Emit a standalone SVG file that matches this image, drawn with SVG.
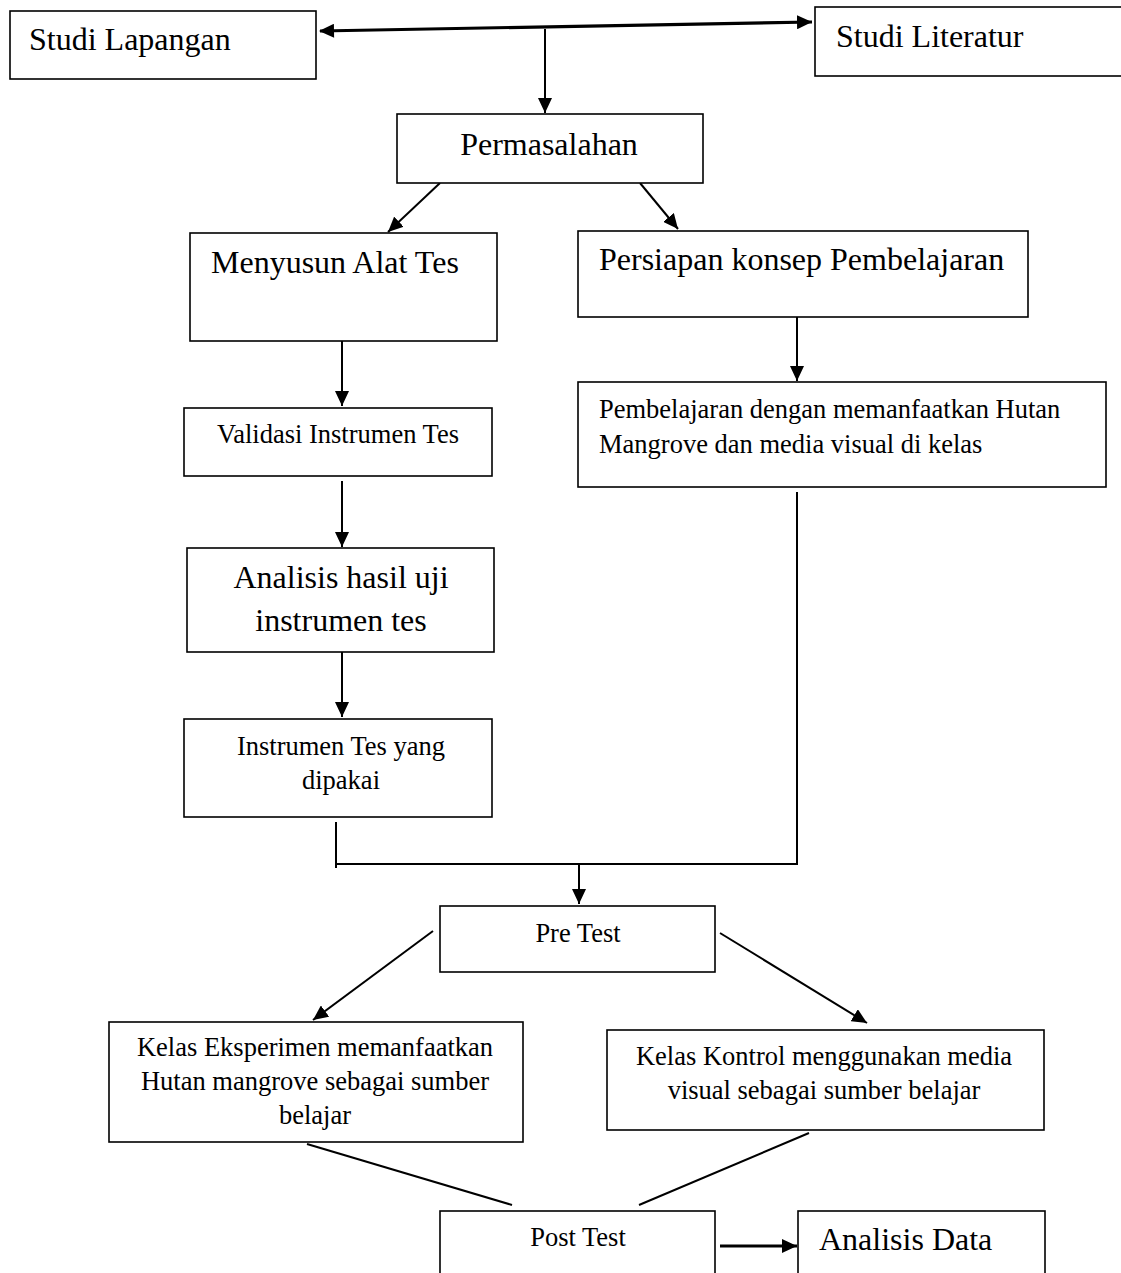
<svg xmlns="http://www.w3.org/2000/svg" width="1121" height="1273" viewBox="0 0 1121 1273">
<style>
.box{fill:#fff;stroke:#000;stroke-width:1.6}
text{font-family:"Liberation Serif","Times New Roman",serif;fill:#000}
.big{font-size:32px}
.sm{font-size:26.5px}
.c{text-anchor:middle}
.ln{stroke:#000;stroke-width:2;fill:none}
.thick{stroke:#000;stroke-width:3.2;fill:none}
</style>
<defs>
<marker id="ah" markerUnits="userSpaceOnUse" markerWidth="16" markerHeight="14" refX="15" refY="7" orient="auto">
<path d="M0,0 L15,7 L0,14 Z" fill="#000"/>
</marker>
<marker id="ahs" markerUnits="userSpaceOnUse" markerWidth="16" markerHeight="14" refX="1" refY="7" orient="auto">
<path d="M15,0 L0,7 L15,14 Z" fill="#000"/>
</marker>
</defs>
<rect x="0" y="0" width="1121" height="1273" fill="#fff"/>
<g id="connectors">
<line class="thick" x1="320" y1="31" x2="812" y2="22" marker-start="url(#ahs)" marker-end="url(#ah)"/>
<line class="ln" x1="545" y1="29" x2="545" y2="113" marker-end="url(#ah)"/>
<line class="ln" x1="440" y1="183" x2="388" y2="232" marker-end="url(#ah)"/>
<line class="ln" x1="640" y1="183" x2="678" y2="229" marker-end="url(#ah)"/>
<line class="ln" x1="342" y1="341" x2="342" y2="406" marker-end="url(#ah)"/>
<line class="ln" x1="342" y1="481" x2="342" y2="547" marker-end="url(#ah)"/>
<line class="ln" x1="342" y1="652" x2="342" y2="717" marker-end="url(#ah)"/>
<line class="ln" x1="797" y1="317" x2="797" y2="381" marker-end="url(#ah)"/>
<polyline class="ln" points="336,822 336,868"/>
<polyline class="ln" points="336,864 797,864 797,492"/>
<line class="ln" x1="579" y1="864" x2="579" y2="904" marker-end="url(#ah)"/>
<line class="ln" x1="433" y1="931" x2="313" y2="1020" marker-end="url(#ah)"/>
<line class="ln" x1="720" y1="933" x2="867" y2="1023" marker-end="url(#ah)"/>
<line class="ln" x1="307" y1="1144" x2="512" y2="1205"/>
<line class="ln" x1="809" y1="1133" x2="639" y2="1205"/>
<line class="thick" x1="720" y1="1246" x2="797" y2="1246" marker-end="url(#ah)"/>
</g>
<g id="studi-lapangan">
<rect class="box" x="10" y="11" width="306" height="68"/>
<text class="big" x="29" y="50">Studi Lapangan</text>
</g>
<g id="studi-literatur">
<rect class="box" x="815" y="7" width="320" height="69"/>
<text class="big" x="836" y="47">Studi Literatur</text>
</g>
<g id="permasalahan">
<rect class="box" x="397" y="114" width="306" height="69"/>
<text class="big c" x="549" y="155">Permasalahan</text>
</g>
<g id="menyusun">
<rect class="box" x="190" y="233" width="307" height="108"/>
<text class="big" x="211" y="273">Menyusun Alat Tes</text>
</g>
<g id="persiapan">
<rect class="box" x="578" y="231" width="450" height="86"/>
<text class="big" x="599" y="270">Persiapan konsep Pembelajaran</text>
</g>
<g id="validasi">
<rect class="box" x="184" y="408" width="308" height="68"/>
<text class="sm c" x="338" y="443">Validasi Instrumen Tes</text>
</g>
<g id="pembelajaran">
<rect class="box" x="578" y="382" width="528" height="105"/>
<text class="sm" x="599" y="418">Pembelajaran dengan memanfaatkan Hutan</text>
<text class="sm" x="599" y="453">Mangrove dan media visual di kelas</text>
</g>
<g id="analisis-uji">
<rect class="box" x="187" y="548" width="307" height="104"/>
<text class="big c" x="341" y="588">Analisis hasil uji</text>
<text class="big c" x="341" y="631">instrumen tes</text>
</g>
<g id="instrumen-dipakai">
<rect class="box" x="184" y="719" width="308" height="98"/>
<text class="sm c" x="341" y="755">Instrumen Tes yang</text>
<text class="sm c" x="341" y="789">dipakai</text>
</g>
<g id="pre-test">
<rect class="box" x="440" y="906" width="275" height="66"/>
<text class="sm c" x="578" y="942">Pre Test</text>
</g>
<g id="kelas-eksperimen">
<rect class="box" x="109" y="1022" width="414" height="120"/>
<text class="sm c" x="315" y="1056">Kelas Eksperimen memanfaatkan</text>
<text class="sm c" x="315" y="1090">Hutan mangrove sebagai sumber</text>
<text class="sm c" x="315" y="1124">belajar</text>
</g>
<g id="kelas-kontrol">
<rect class="box" x="607" y="1030" width="437" height="100"/>
<text class="sm c" x="824" y="1065">Kelas Kontrol menggunakan media</text>
<text class="sm c" x="824" y="1099">visual sebagai sumber belajar</text>
</g>
<g id="post-test">
<rect class="box" x="440" y="1211" width="275" height="80"/>
<text class="sm c" x="578" y="1246">Post Test</text>
</g>
<g id="analisis-data">
<rect class="box" x="798" y="1211" width="247" height="80"/>
<text class="big" x="819" y="1250">Analisis Data</text>
</g>
</svg>
